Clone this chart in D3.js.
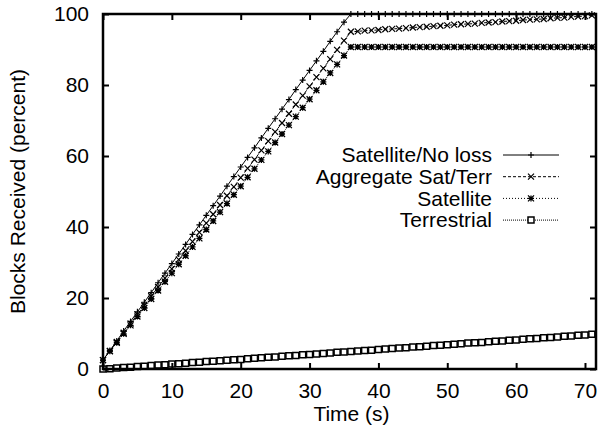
<!DOCTYPE html>
<html lang="en">
  <head>
    <meta charset="UTF-8">
    <script type="text/javascript" src="https://cdn.jsdelivr.net/npm/d3@7"></script>
    <style>
      body { margin: 0; background: #fff; }
      text { font-family: 'Liberation Sans', Arial, sans-serif; fill: #000; }
    </style>
    <title>Blocks Received</title>
  </head>
  <body>
    <script type="text/javascript">
      // Time in seconds, one sample per second
      let time = [0, 1, 2, 3, 4, 5, 6, 7, 8, 9, 10, 11, 12, 13, 14, 15, 16, 17, 18, 19,
                  20, 21, 22, 23, 24, 25, 26, 27, 28, 29, 30, 31, 32, 33, 34, 35, 36, 37, 38, 39,
                  40, 41, 42, 43, 44, 45, 46, 47, 48, 49, 50, 51, 52, 53, 54, 55, 56, 57, 58, 59,
                  60, 61, 62, 63, 64, 65, 66, 67, 68, 69, 70, 71];

      let satNoLoss = [2.5, 5.2, 7.9, 10.7, 13.4, 16.1, 18.8, 21.5, 24.3, 27.0, 29.7, 32.4, 35.1, 37.9, 40.6, 43.3, 46.0, 48.7, 51.5, 54.2,
                       56.9, 59.6, 62.3, 65.1, 67.8, 70.5, 73.2, 75.9, 78.7, 81.4, 84.1, 86.8, 89.5, 92.3, 95.0, 97.7, 100, 100, 100, 100,
                       100, 100, 100, 100, 100, 100, 100, 100, 100, 100, 100, 100, 100, 100, 100, 100, 100, 100, 100, 100,
                       100, 100, 100, 100, 100, 100, 100, 100, 100, 100, 100, 100];

      let aggregate = [2.5, 5.1, 7.6, 10.2, 12.8, 15.4, 17.9, 20.5, 23.1, 25.6, 28.2, 30.8, 33.3, 35.9, 38.5, 41.1, 43.6, 46.2, 48.8, 51.3,
                       53.9, 56.5, 59.0, 61.6, 64.2, 66.8, 69.3, 71.9, 74.5, 77.0, 79.6, 82.2, 84.7, 87.3, 89.9, 92.5, 95.0, 95.1, 95.3, 95.4,
                       95.5, 95.7, 95.8, 95.9, 96.0, 96.2, 96.3, 96.4, 96.6, 96.7, 96.8, 97.0, 97.1, 97.2, 97.3, 97.5, 97.6, 97.7, 97.9, 98.0,
                       98.1, 98.3, 98.4, 98.5, 98.6, 98.8, 98.9, 99.0, 99.2, 99.3, 99.4, 99.6];

      let satellite = [2.5, 5.0, 7.4, 9.9, 12.3, 14.8, 17.2, 19.7, 22.1, 24.6, 27.0, 29.5, 31.9, 34.4, 36.8, 39.3, 41.7, 44.2, 46.6, 49.1,
                       51.5, 54.0, 56.4, 58.9, 61.3, 63.8, 66.2, 68.7, 71.1, 73.6, 76.0, 78.5, 80.9, 83.4, 85.8, 88.3, 90.7, 90.7, 90.7, 90.7,
                       90.7, 90.7, 90.7, 90.7, 90.7, 90.7, 90.7, 90.7, 90.7, 90.7, 90.7, 90.7, 90.7, 90.7, 90.7, 90.7, 90.7, 90.7, 90.7, 90.7,
                       90.7, 90.7, 90.7, 90.7, 90.7, 90.7, 90.7, 90.7, 90.7, 90.7, 90.7, 90.7];

      let terrestrial = [0, 0.1, 0.3, 0.4, 0.5, 0.7, 0.8, 1.0, 1.1, 1.2, 1.4, 1.5, 1.6, 1.8, 1.9, 2.1, 2.2, 2.3, 2.5, 2.6,
                         2.7, 2.9, 3.0, 3.2, 3.3, 3.4, 3.6, 3.7, 3.8, 4.0, 4.1, 4.2, 4.4, 4.5, 4.7, 4.8, 4.9, 5.1, 5.2, 5.3,
                         5.5, 5.6, 5.8, 5.9, 6.0, 6.2, 6.3, 6.4, 6.6, 6.7, 6.8, 7.0, 7.1, 7.3, 7.4, 7.5, 7.7, 7.8, 7.9, 8.1,
                         8.2, 8.4, 8.5, 8.6, 8.8, 8.9, 9.0, 9.2, 9.3, 9.5, 9.6, 9.8];

      let seriesNames = ['Satellite/No loss', 'Aggregate Sat/Terr', 'Satellite', 'Terrestrial'];
      let xTicks = [0, 10, 20, 30, 40, 50, 60, 70];
      let yTicks = [0, 20, 40, 60, 80, 100];

      let w = 603;
      let h = 436;
      let mLeft = 103, mRight = 596, mTop = 14, mBottom = 369;

      let series = [
        { name: seriesNames[0], values: satNoLoss, dash: null, marker: 'plus' },
        { name: seriesNames[1], values: aggregate, dash: '3,2', marker: 'cross' },
        { name: seriesNames[2], values: satellite, dash: '1,2', marker: 'star' },
        { name: seriesNames[3], values: terrestrial, dash: '1,1', marker: 'box' }
      ];

      let xScale = d3.scaleLinear().domain([0, 71.6]).range([mLeft, mRight]);
      let yScale = d3.scaleLinear().domain([0, 100]).range([mBottom, mTop]);

      let svg = d3.select('body')
                  .append('svg')
                  .attr('width', w)
                  .attr('height', h);

      // Marker shapes, drawn as paths centred on 0,0
      let s = 3;
      let markerPath = {
        plus: `M${-s},0H${s}M0,${-s}V${s}`,
        cross: `M${-s},${-s}L${s},${s}M${-s},${s}L${s},${-s}`,
        star: `M${-s},0H${s}M0,${-s}V${s}M${-s},${-s}L${s},${s}M${-s},${s}L${s},${-s}`,
        box: `M-3,-3H3V3H-3Z`
      };
      let markerWidth = { plus: 1.2, cross: 1.2, star: 1.3, box: 1.5 };

      let line = d3.line()
                   .x((d, i) => xScale(time[i]))
                   .y(d => yScale(d));

      let plot = svg.append('g');

      series.forEach(sr => {
        plot.append('path')
            .attr('d', line(sr.values))
            .attr('fill', 'none')
            .attr('stroke', '#000')
            .attr('stroke-width', 1)
            .attr('stroke-dasharray', sr.dash);

        plot.selectAll(null)
            .data(sr.values)
            .enter()
            .append('path')
            .attr('d', markerPath[sr.marker])
            .attr('transform', (d, i) => 'translate(' + xScale(time[i]) + ',' + yScale(d) + ')')
            .attr('fill', sr.marker === 'box' ? '#fff' : 'none')
            .attr('stroke', '#000')
            .attr('stroke-width', markerWidth[sr.marker]);
      });

      // Axes: ticks pointing inward, mirrored on top and right
      let fontSize = 21;
      let xAxis = d3.axisBottom(xScale).tickValues(xTicks).tickSizeInner(-6).tickSizeOuter(0).tickPadding(14);
      let yAxis = d3.axisLeft(yScale).tickValues(yTicks).tickSizeInner(-6).tickSizeOuter(0).tickPadding(14);
      let xAxisTop = d3.axisTop(xScale).tickValues(xTicks).tickSizeInner(-6).tickSizeOuter(0).tickFormat('');
      let yAxisRight = d3.axisRight(yScale).tickValues(yTicks).tickSizeInner(-6).tickSizeOuter(0).tickFormat('');

      let axes = [
        svg.append('g').attr('transform', 'translate(0,' + mBottom + ')').call(xAxis),
        svg.append('g').attr('transform', 'translate(' + mLeft + ',0)').call(yAxis),
        svg.append('g').attr('transform', 'translate(0,' + mTop + ')').call(xAxisTop),
        svg.append('g').attr('transform', 'translate(' + mRight + ',0)').call(yAxisRight)
      ];
      axes.forEach(g => {
        g.select('.domain').remove();
        g.selectAll('line').attr('stroke', '#000').attr('stroke-width', 2);
        g.selectAll('text')
          .attr('font-size', fontSize)
          .attr('font-family', "'Liberation Sans', Arial, sans-serif");
      });

      // Border
      svg.append('rect')
         .attr('x', mLeft)
         .attr('y', mTop)
         .attr('width', mRight - mLeft)
         .attr('height', mBottom - mTop)
         .attr('fill', 'none')
         .attr('stroke', '#000')
         .attr('stroke-width', 2.5);

      // Axis titles
      svg.append('text')
         .attr('x', (mLeft + mRight) / 2 + 2)
         .attr('y', 421)
         .attr('text-anchor', 'middle')
         .attr('font-size', fontSize)
         .text('Time (s)');

      svg.append('text')
         .attr('transform', 'translate(25,' + (mTop + mBottom) / 2 + ') rotate(-90)')
         .attr('text-anchor', 'middle')
         .attr('font-size', fontSize)
         .text('Blocks Received (percent)');

      // Legend
      let legend = svg.append('g');
      series.forEach((sr, i) => {
        let ly = 155 + i * 21.7;
        legend.append('text')
              .attr('x', 492)
              .attr('y', ly)
              .attr('dy', '0.35em')
              .attr('text-anchor', 'end')
              .attr('font-size', fontSize)
              .text(sr.name);
        legend.append('line')
              .attr('x1', 503).attr('x2', 559)
              .attr('y1', ly).attr('y2', ly)
              .attr('stroke', '#000')
              .attr('stroke-width', 1)
              .attr('stroke-dasharray', sr.dash);
        legend.append('path')
              .attr('d', markerPath[sr.marker])
              .attr('transform', 'translate(531,' + ly + ')')
              .attr('fill', sr.marker === 'box' ? '#fff' : 'none')
              .attr('stroke', '#000')
              .attr('stroke-width', markerWidth[sr.marker]);
      });
    </script>
  </body>
</html>
